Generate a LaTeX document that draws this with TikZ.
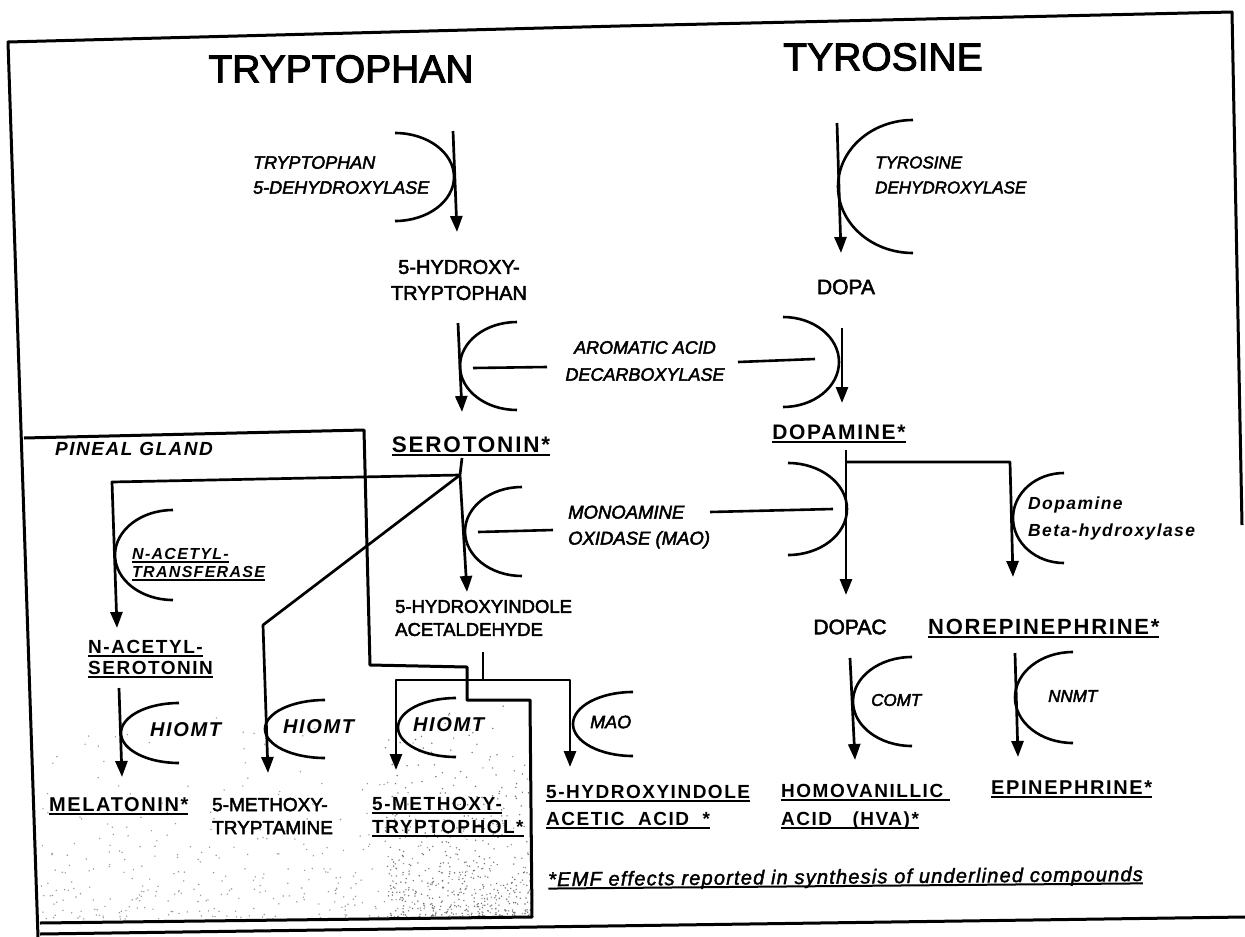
\documentclass[tikz,border=0pt]{standalone}
\usepackage{fontspec}
\setmainfont{Liberation Sans}
\newfontfamily\heavy{Liberation Sans}[FakeBold=2.5]
\newfontfamily\spaced{Liberation Sans}[LetterSpace=8]
\newfontfamily\notefont{Liberation Sans}[LetterSpace=6,FakeBold=1.8]
\usetikzlibrary{arrows.meta}

% underline drawn as a thick rule below the baseline
\newcommand\ul[1]{\leavevmode\setbox0\hbox{#1}\rlap{\rule[-3.4pt]{\wd0}{2pt}}\box0}
% enzyme brackets: half ellipses opening to the right "(" or to the left ")"
\newcommand\openL[3]{\draw[bracket] #1 arc[start angle=-90,end angle=-270,x radius=#2,y radius=#3];}
\newcommand\openR[3]{\draw[bracket] #1 arc[start angle=-90,end angle=90,x radius=#2,y radius=#3];}

\begin{document}
\begin{tikzpicture}[x=1pt,y=-1pt,
  wire/.style={line width=3pt, line join=round},
  flow/.style={line width=2.7pt, line join=round, -{Triangle[length=16pt,width=12pt]}},
  bracket/.style={line width=2.6pt},
  title/.style={inner sep=0pt, font=\heavy\fontsize{39}{44}\selectfont},
  cmp/.style={inner sep=0pt, align=left},
  keyc/.style={inner sep=0pt, align=left},
  enzlab/.style={inner sep=0pt, align=left}]

\useasboundingbox (0,0) rectangle (1245,937);
\fill[white] (0,0) rectangle (1245,937);

% stippled shading in the lower part of the pineal gland box
\begin{scope}
  \clip (36,700) -- (530,700) -- (531,917) -- (40,921) -- cycle;
  \pgfmathsetseed{4242}
  \foreach \i in {1,...,420} {
    \pgfmathsetmacro\px{40+490*rnd}
    \pgfmathsetmacro\py{919-225*rnd*rnd}
    \fill[black!40] (\px,\py) circle (0.8);
  }
  \foreach \i in {1,...,480} {
    \pgfmathsetmacro\px{385+146*rnd}
    \pgfmathsetmacro\py{917-215*rnd*rnd}
    \fill[black!55] (\px,\py) circle (0.8);
  }
\end{scope}

% outer frame
\draw[wire] (38,937) -- (8,42) -- (620,26) -- (1232,12) -- (1242,525);
\draw[wire] (40,934) -- (1245,917);
% pineal gland box
\draw[wire] (24,438) -- (364,430) -- (370,665) -- (467,667) -- (467,700)
  -- (530,700) -- (532,917) -- (40,923);

% ---------- titles and compounds ----------
\node[title] (trp) at (341,69) {TRYPTOPHAN};
\node[title] (tyr) at (883,57) {TYROSINE};

\node[cmp, align=center, font=\heavy\fontsize{20}{26}\selectfont] (htp) at (459,280) {5-HYDROXY-\\TRYPTOPHAN};
\node[cmp, font=\heavy\fontsize{21}{25}\selectfont] (dopa) at (846,287) {DOPA};
\node[keyc, font=\spaced\bfseries\fontsize{22.5}{26}\selectfont] (ser) at (471,446) {\ul{SEROTONIN*}};
\node[keyc, font=\spaced\bfseries\fontsize{21}{25}\selectfont] (dpm) at (839,434) {\ul{DOPAMINE*}};
\node[cmp, anchor=west, font=\heavy\fontsize{18.5}{23}\selectfont] (hia) at (395,618) {5-HYDROXYINDOLE\\ACETALDEHYDE};
\node[cmp, font=\heavy\fontsize{21}{25}\selectfont] (dopac) at (850,627) {DOPAC};
\node[keyc, anchor=west, font=\spaced\bfseries\fontsize{22}{25}\selectfont] (ne) at (928,629) {\ul{NOREPINEPHRINE*}};
\node[keyc, anchor=west, font=\spaced\bfseries\fontsize{19}{21}\selectfont] (nas) at (88,659) {\ul{N-ACETYL-}\\\ul{SEROTONIN}};
\node[keyc, anchor=west, font=\spaced\bfseries\fontsize{20}{23}\selectfont] (mel) at (49,806) {\ul{MELATONIN*}};
\node[cmp, anchor=west, font=\heavy\fontsize{19}{23}\selectfont] (mtam) at (212,816) {5-METHOXY-\\TRYPTAMINE};
\node[keyc, anchor=west, font=\spaced\bfseries\fontsize{19}{23}\selectfont] (mtol) at (372,817) {\ul{5-METHOXY-}\\\ul{TRYPTOPHOL*}};
\node[keyc, anchor=west, font=\spaced\bfseries\fontsize{19}{27}\selectfont] (hiaa) at (546,807) {\ul{5-HYDROXYINDOLE}\\\ul{ACETIC~~ACID~~*}};
\node[keyc, anchor=west, font=\spaced\bfseries\fontsize{19}{28}\selectfont] (hva) at (781,807) {\ul{HOMOVANILLIC~}\\\ul{ACID~~~(HVA)*}};
\node[keyc, anchor=west, font=\spaced\bfseries\fontsize{20}{23}\selectfont] (epi) at (991,789) {\ul{EPINEPHRINE*}};

% ---------- enzymes ----------
\node[enzlab, anchor=west, font=\heavy\itshape\fontsize{18}{25}\selectfont] (tph) at (253,175) {TRYPTOPHAN\\5-DEHYDROXYLASE};
\node[enzlab, anchor=west, font=\heavy\itshape\fontsize{17}{25}\selectfont] (th) at (875,175) {TYROSINE\\DEHYDROXYLASE};
\node[enzlab, align=center, font=\heavy\itshape\fontsize{18}{27}\selectfont] (aadc) at (645,361) {AROMATIC ACID\\DECARBOXYLASE};
\node[enzlab, anchor=west, font=\heavy\itshape\fontsize{18.5}{26}\selectfont] (mao) at (568,527) {MONOAMINE\\OXIDASE (MAO)};
\node[enzlab, anchor=west, font=\spaced\bfseries\itshape\fontsize{17.5}{27}\selectfont] (dbh) at (1028,518) {Dopamine\\Beta-hydroxylase};
\node[enzlab, anchor=west, font=\spaced\bfseries\itshape\fontsize{16}{18}\selectfont] (nat) at (132,565) {\ul{N-ACETYL-}\\\ul{TRANSFERASE}};
\node[enzlab, anchor=west, font=\spaced\bfseries\itshape\fontsize{20}{25}\selectfont] (hiomtA) at (150,730) {HIOMT};
\node[enzlab, anchor=west, font=\spaced\bfseries\itshape\fontsize{20}{25}\selectfont] (hiomtB) at (283,727) {HIOMT};
\node[enzlab, anchor=west, font=\spaced\bfseries\itshape\fontsize{20}{25}\selectfont] (hiomtC) at (413,725) {HIOMT};
\node[enzlab, anchor=west, font=\heavy\itshape\fontsize{18}{22}\selectfont] (maoB) at (590,722) {MAO};
\node[enzlab, anchor=west, font=\heavy\itshape\fontsize{17}{21}\selectfont] (comt) at (871,700) {COMT};
\node[enzlab, anchor=west, font=\heavy\itshape\fontsize{17}{21}\selectfont] (nnmt) at (1048,696) {NNMT};
\node[enzlab, anchor=west, font=\spaced\bfseries\itshape\fontsize{19}{22}\selectfont] (pg) at (55,449) {PINEAL GLAND};
\node[enzlab, anchor=west, rotate=0.5, font=\notefont\itshape\fontsize{20}{24}\selectfont] (fn) at (548,881) {\ul{*EMF effects reported in synthesis of underlined compounds}};

% ---------- connector end points ----------
\coordinate (s1) at (453,131);  \coordinate (e1) at (457,232);
\coordinate (s2) at (837,123);  \coordinate (e2) at (841,253);
\coordinate (s3) at (458,323);  \coordinate (e3) at (462,412);
\coordinate (s4) at (842,328);  \coordinate (e4) at (842,403);
\coordinate (s5) at (462,458);  \coordinate (j5ht) at (460,475);  \coordinate (e5) at (467,592);
\coordinate (s6) at (846,450);  \coordinate (jda) at (846,462);   \coordinate (e6) at (846,595);
\coordinate (k7) at (1010,462); \coordinate (e7) at (1013,577);
\coordinate (k8) at (112,482);  \coordinate (e8) at (117,628);
\coordinate (k9) at (263,625);  \coordinate (e9) at (268,773);
\coordinate (s10) at (119,688); \coordinate (e10) at (122,777);
\coordinate (s11) at (483,652); \coordinate (jhia) at (483,680);
\coordinate (k12) at (396,680); \coordinate (e12) at (396,770);
\coordinate (k13) at (570,680); \coordinate (e13) at (570,767);
\coordinate (s14) at (850,658); \coordinate (e14) at (855,760);
\coordinate (s15) at (1015,653);\coordinate (e15) at (1018,757);

% enzyme pointer lines
\coordinate (p1) at (473,368); \coordinate (q1) at (547,367);
\coordinate (p2) at (738,362); \coordinate (q2) at (815,359);
\coordinate (p3) at (478,532); \coordinate (q3) at (553,530);
\coordinate (p4) at (710,512); \coordinate (q4) at (833,509);

% ---------- reaction arrows ----------
\draw[flow] (s1) -- (e1);
\draw[flow] (s2) -- (e2);
\draw[flow] (s3) -- (e3);
\draw[flow] (s4) -- (e4);
\draw[flow] (s5) -- (j5ht) -- (e5);
\draw[flow] (s6) -- (jda) -- (e6);
\draw[flow] (jda) -- (k7) -- (e7);
\draw[flow] (j5ht) -- (k8) -- (e8);
\draw[flow] (j5ht) -- (k9) -- (e9);
\draw[flow] (s10) -- (e10);
\draw[bracket] (s11) -- (jhia);
\draw[flow] (jhia) -- (k12) -- (e12);
\draw[flow] (jhia) -- (k13) -- (e13);
\draw[flow] (s14) -- (e14);
\draw[flow] (s15) -- (e15);

\draw[bracket] (p1) -- (q1);
\draw[bracket] (p2) -- (q2);
\draw[bracket] (p3) -- (q3);
\draw[bracket] (p4) -- (q4);

% ---------- enzyme brackets ----------
\openR{(395,133)}{59}{44}
\openL{(913,120)}{75}{66.5}
\openL{(517,322)}{57}{44}
\openR{(783,317)}{56}{45}
\openL{(522,487)}{57}{44.5}
\openR{(788,463)}{59}{46}
\openL{(1064,473)}{51}{45}
\openL{(173,510)}{58}{45}
\openL{(179,703)}{58}{30}
\openL{(325,700)}{60}{29}
\openL{(456,698)}{58}{29.5}
\openL{(633,692)}{60}{32}
\openL{(912,657)}{59}{44.5}
\openL{(1073,652)}{58}{45.5}
\end{tikzpicture}
\end{document}
